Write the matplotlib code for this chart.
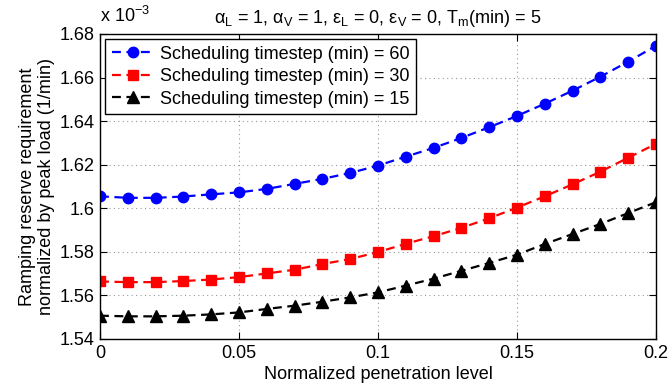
import matplotlib
matplotlib.use("Agg")
import matplotlib.pyplot as plt
import numpy as np

plt.rcParams['font.family'] = ['Liberation Sans', 'DejaVu Sans']
plt.rcParams['mathtext.fontset'] = 'custom'
plt.rcParams['mathtext.rm'] = 'Liberation Sans'
plt.rcParams['mathtext.it'] = 'Liberation Sans:italic'

penetration = [0.00, 0.01, 0.02, 0.03, 0.04, 0.05, 0.06, 0.07, 0.08, 0.09, 0.10,
               0.11, 0.12, 0.13, 0.14, 0.15, 0.16, 0.17, 0.18, 0.19, 0.20]

# values in units of 1e-3
step60 = [1.6055, 1.6048, 1.6048, 1.6054, 1.6064, 1.6073, 1.6089, 1.6112, 1.6135, 1.6162, 1.6196,
          1.6237, 1.6277, 1.6323, 1.6372, 1.6424, 1.6480, 1.6540, 1.6604, 1.6673, 1.6746]
step30 = [1.5664, 1.5661, 1.5661, 1.5666, 1.5673, 1.5684, 1.5701, 1.5718, 1.5744, 1.5767, 1.5799,
          1.5837, 1.5872, 1.5910, 1.5954, 1.6003, 1.6055, 1.6110, 1.6168, 1.6232, 1.6296]
step15 = [1.5507, 1.5504, 1.5504, 1.5507, 1.5513, 1.5522, 1.5538, 1.5553, 1.5571, 1.5591, 1.5614,
          1.5645, 1.5677, 1.5713, 1.5749, 1.5787, 1.5836, 1.5882, 1.5928, 1.5978, 1.6028]

labels = ['Scheduling timestep (min) = 60',
          'Scheduling timestep (min) = 30',
          'Scheduling timestep (min) = 15']

fs = 13
fig = plt.figure(figsize=(6.68, 3.87), dpi=100)
ax = fig.add_axes([100/668, 48/387, 556/668, 305/387])

ax.plot(penetration, step60, '--o', color='#0000ff', lw=1.6, ms=7.5, dashes=(4, 2.5), label=labels[0])
ax.plot(penetration, step30, '--s', color='#ff0000', lw=1.6, ms=6.5, dashes=(4, 2.5), label=labels[1])
ax.plot(penetration, step15, '--^', color='black', lw=1.6, ms=8, dashes=(4, 2.5), label=labels[2])

ax.set_xlim(0, 0.2)
ax.set_ylim(1.54, 1.68)
ax.set_xticks([0, 0.05, 0.1, 0.15, 0.2])
ax.set_xticklabels(['0', '0.05', '0.1', '0.15', '0.2'])
ax.set_yticks(np.arange(1.54, 1.681, 0.02))
ax.set_yticklabels(['1.54', '1.56', '1.58', '1.6', '1.62', '1.64', '1.66', '1.68'])
ax.tick_params(direction='in', top=True, right=True, labelsize=fs, length=5, width=0.8, pad=4)
ax.grid(True, linestyle=(0, (1, 3)), color='#999999', lw=0.8)
for s in ax.spines.values():
    s.set_linewidth(1.0)

ax.set_xlabel('Normalized penetration level', fontsize=fs, labelpad=3)
ax.set_ylabel('Ramping reserve requirement\nnormalized by peak load (1/min)', fontsize=fs, labelpad=3)
ax.set_title('α$_\\mathrm{L}$ = 1, α$_\\mathrm{V}$ = 1, ε$_\\mathrm{L}$ = 0, '
             'ε$_\\mathrm{V}$ = 0, T$_\\mathrm{m}$(min) = 5', fontsize=fs, pad=8)
fig.text(100/668, 1 - 22/387, r'x 10$^{-3}$', fontsize=fs, ha='left', va='baseline')

leg = ax.legend(loc='upper left', fontsize=fs, numpoints=1, handlelength=2.4,
                borderaxespad=0.3, fancybox=False, framealpha=1, edgecolor='black',
                borderpad=0.35, labelspacing=0.3, handletextpad=0.3)
leg.get_frame().set_linewidth(1.0)

fig.savefig('out.png', dpi=100)
